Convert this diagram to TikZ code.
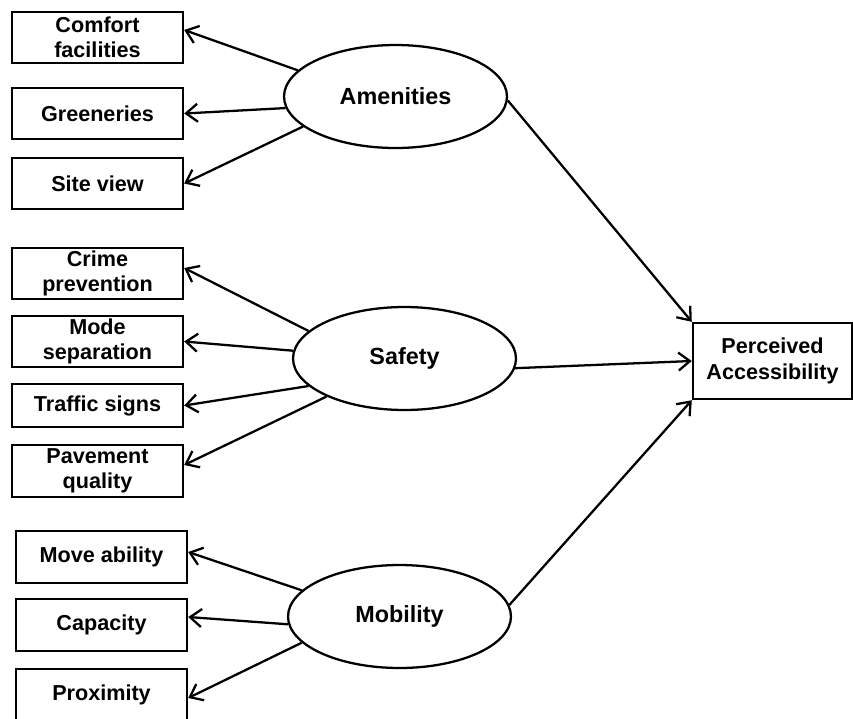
\documentclass[tikz,border=0pt]{standalone}
\usepackage{fontspec}
\setmainfont{Liberation Sans}
\usetikzlibrary{arrows.meta, shapes, positioning, calc}

\begin{document}
\begin{tikzpicture}[x=0.02cm, y=-0.02cm,
    indicator/.style={draw, line width=1.4pt, minimum width=3.42cm, minimum height=1.03cm, inner sep=0pt, align=center, font=\fontsize{12.3}{14.5}\selectfont\bfseries},
    construct/.style={draw, ellipse, line width=1.3pt, minimum width=4.46cm, minimum height=2.06cm, inner sep=0pt, font=\fontsize{13.3}{15}\selectfont\bfseries},
    link/.style={-{Straight Barb[length=2.3mm, width=3.6mm]}, line width=1.3pt}]
  \useasboundingbox (0,0) rectangle (853,718);
  % Indicadores
  \node[indicator] (comfort) at (97.5,37.5) {Comfort\\facilities};
  \node[indicator] (greenery) at (97.5,113.5) {Greeneries};
  \node[indicator] (siteview) at (97.5,183.5) {Site view};
  \node[indicator] (crime) at (97.5,273.5) {Crime\\prevention};
  \node[indicator] (modesep) at (97.5,341.5) {Mode\\separation};
  \node[indicator, minimum height=0.87cm] (traffic) at (97.5,405.5) {Traffic signs};
  \node[indicator] (pavement) at (97.5,471) {Pavement\\quality};
  \node[indicator] (moveab) at (101.5,557) {Move ability};
  \node[indicator] (capacity) at (101.5,625) {Capacity};
  \node[indicator] (proximity) at (101.5,695) {Proximity};
  % Constructos
  \node[construct] (amen) at (395.5,96.5) {Amenities};
  \node[construct] (safety) at (404.5,358.5) {Safety};
  \node[construct] (mobility) at (399.5,616.5) {Mobility};
  \node[draw, line width=1.4pt, minimum width=3.18cm, minimum height=1.52cm, inner sep=0pt, align=center, font=\fontsize{12.3}{14.5}\selectfont\bfseries] (perceived) at (772.5,361) {Perceived\\Accessibility};
  % Flechas hacia los indicadores
  \draw[link] (amen.165) -- ([yshift=0.15cm]comfort.east);
  \draw[link] (amen.186) -- (greenery.east);
  \draw[link] (amen.198) -- (siteview.east);
  \draw[link] (safety.164) -- ([yshift=0.11cm]crime.east);
  \draw[link] (safety.176) -- (modesep.east);
  \draw[link] (safety.196) -- (traffic.east);
  \draw[link] (safety.206) -- ([yshift=0.12cm]pavement.east);
  \draw[link] (mobility.165) -- ([yshift=0.1cm]moveab.east);
  \draw[link] (mobility.184) -- ([yshift=0.16cm]capacity.east);
  \draw[link] (mobility.195) -- ([yshift=-0.06cm]proximity.east);
  % Flechas hacia la accesibilidad percibida
  \draw[link] (amen.358) -- (perceived.north west);
  \draw[link] (safety.355) -- (perceived.west);
  \draw[link] (mobility.6) -- (perceived.south west);
\end{tikzpicture}
\end{document}
